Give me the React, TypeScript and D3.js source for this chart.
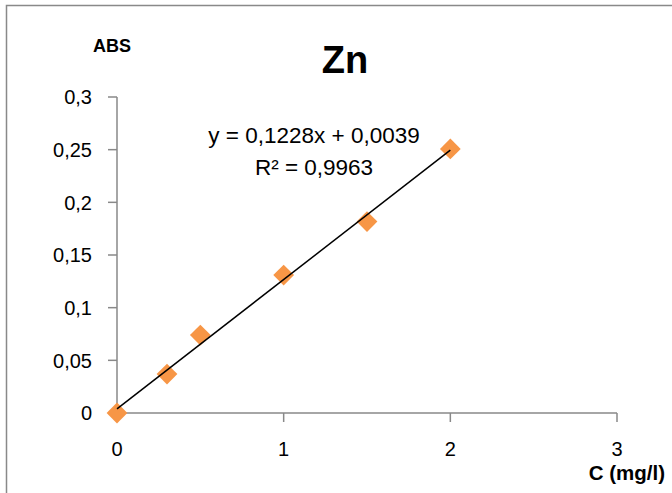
import React from "react";
import * as d3 from "d3";

const concentrations = [0, 0.3, 0.5, 1, 1.5, 2];
const absorbances = [0, 0.037, 0.074, 0.131, 0.1817, 0.2507];
const xTicks = [0, 1, 2, 3];
const yTicks = [0, 0.05, 0.1, 0.15, 0.2, 0.25, 0.3];
const slope = 0.1228;
const intercept = 0.0039;
const equationText = "y = 0,1228x + 0,0039";
const r2Value = "0,9963";
const title = "Zn";
const yAxisTitle = "ABS";
const xAxisTitle = "C (mg/l)";

const W = 672;
const H = 493;
const FONT = "'Liberation Sans', Arial, sans-serif";
const AXIS = "#898989";

export default function App() {
  const x = d3.scaleLinear().domain([0, 3]).range([117, 617]);
  const y = d3.scaleLinear().domain([0, 0.3]).range([413, 97]);
  const fmt = (v: number) => String(+v.toFixed(2)).replace(".", ",");
  const trend = d3
    .line<number>()
    .x((d) => x(d))
    .y((d) => y(slope * d + intercept));
  const diamond = d3.symbol().type(d3.symbolDiamond2).size(275);

  return (
    <svg
      width={W}
      height={H}
      style={{ position: "absolute", left: 0, top: 0, background: "#fff" }}
      fontFamily={FONT}
    >
      <rect x={6.5} y={5.5} width={800} height={700} fill="#fff" stroke={AXIS} strokeWidth={1.5} />
      <text x={345} y={73} fontSize={38} fontWeight="bold" textAnchor="middle" fill="#000">
        {title}
      </text>
      <text x={112} y={52} fontSize={18} fontWeight="bold" textAnchor="middle" fill="#000">
        {yAxisTitle}
      </text>
      <text x={665} y={480} fontSize={20.5} fontWeight="bold" textAnchor="end" fill="#000">
        {xAxisTitle}
      </text>
      {/* y axis */}
      <line x1={x(0)} x2={x(0)} y1={y(0.3)} y2={y(0)} stroke={AXIS} strokeWidth={1.5} />
      {yTicks.map((t) => (
        <g key={"y" + t}>
          <line x1={x(0) - 9} x2={x(0)} y1={y(t)} y2={y(t)} stroke={AXIS} strokeWidth={1.5} />
          <text x={92} y={y(t)} dy="0.36em" fontSize={20} textAnchor="end" fill="#000">
            {fmt(t)}
          </text>
        </g>
      ))}
      {/* x axis */}
      <line x1={x(0)} x2={x(3)} y1={y(0)} y2={y(0)} stroke={AXIS} strokeWidth={1.5} />
      {xTicks.map((t) => (
        <g key={"x" + t}>
          <line x1={x(t)} x2={x(t)} y1={y(0)} y2={y(0) + 9} stroke={AXIS} strokeWidth={1.5} />
          <text x={x(t)} y={456} fontSize={20} textAnchor="middle" fill="#000">
            {fmt(t)}
          </text>
        </g>
      ))}
      {concentrations.map((c, i) => (
        <path
          key={"p" + i}
          d={diamond() as string}
          transform={`translate(${x(c)},${y(absorbances[i])})`}
          fill="#F79646"
        />
      ))}
      <path d={trend([0, 2]) as string} stroke="#000" strokeWidth={1.5} fill="none" />
      <text x={314} y={143} fontSize={22.5} textAnchor="middle" fill="#000">
        {equationText}
      </text>
      <text x={314} y={175} fontSize={22.5} textAnchor="middle" fill="#000">
        R² = {r2Value}
      </text>
    </svg>
  );
}
